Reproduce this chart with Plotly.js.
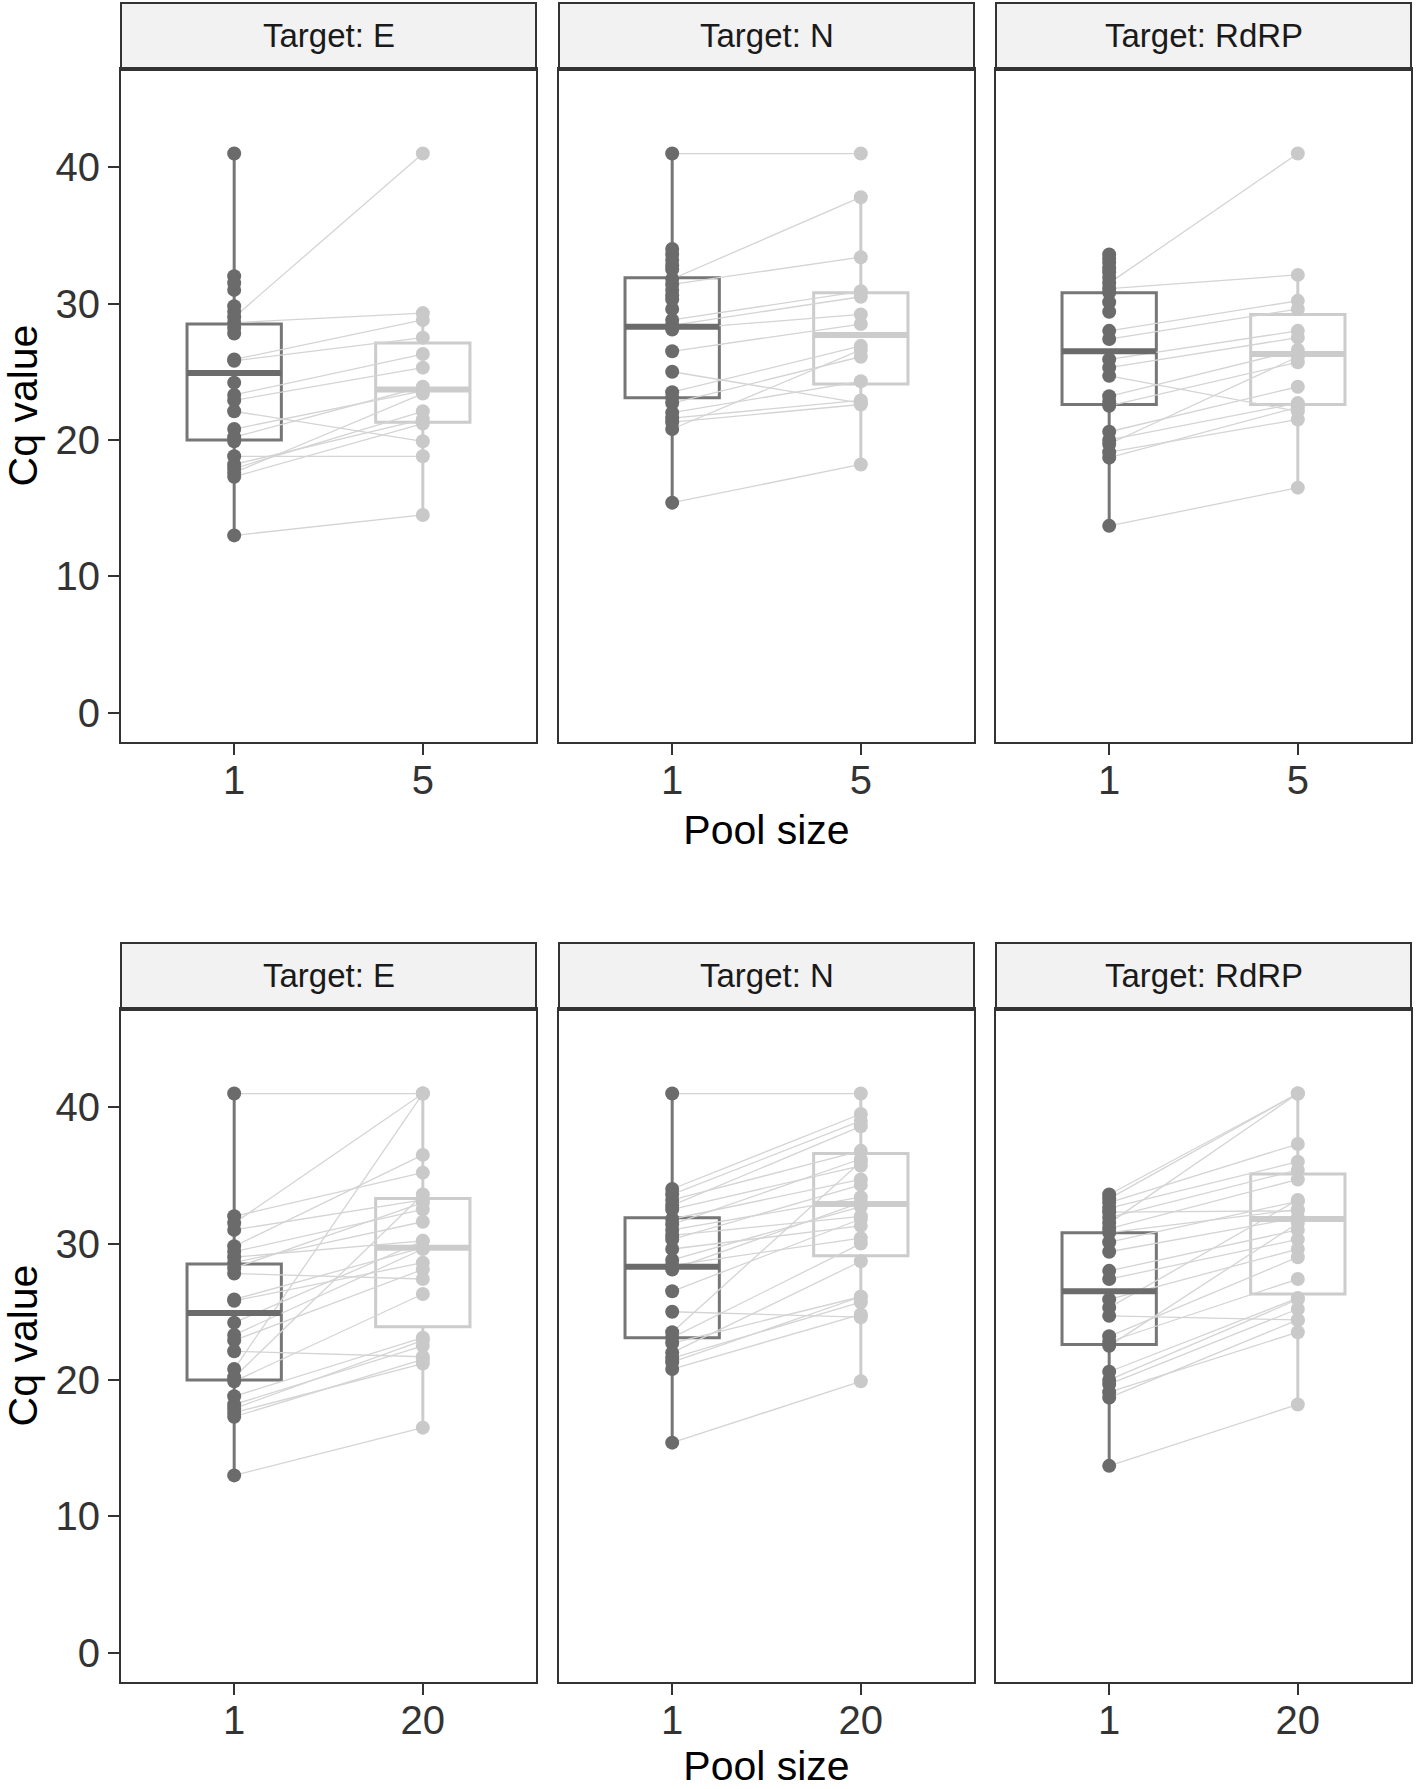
<!DOCTYPE html>
<html><head><meta charset="utf-8">
<script src="https://cdn.plot.ly/plotly-3.0.1.min.js"></script>
<style>html,body{margin:0;padding:0;background:#fff}#chart{width:1418px;height:1789px}</style>
</head><body><div id="chart"></div>
<script>
// ---------------- DATA ----------------
const targets = ['E', 'N', 'RdRP'];
const poolTicksTop = ['1', '5'];
const poolTicksBottom = ['1', '20'];

// Cq values per sample; pool-5 / pool-20 entries are paired with pool-1 by index (null = not tested)
const E_pool1  = [41.0, 32.0, 31.5, 31.0, 29.8, 29.4, 29.0, 28.6, 28.2, 27.8, 25.9, 25.8, 24.2, 23.3, 22.9, 22.1, 20.8, 20.2, 19.9, 18.8, 18.2, 17.9, 17.6, 17.3, 13.0];
const E_pool5  = [null, null, null, null, null, null, 41.0, 29.3, null, null, 28.8, 27.5, null, 26.3, 25.3, 19.9, 23.6, 23.9, null, 18.8, 21.5, 22.1, 23.4, 21.2, 14.5];
const E_pool20 = [41.0, 35.2, 41.0, 33.2, 36.5, 32.5, 30.2, 31.6, 33.0, 27.4, 29.7, 28.6, 30.2, 29.6, 28.1, 21.7, 41.0, 33.6, 26.3, 23.1, 22.5, 22.9, 21.2, 21.5, 16.5];

const N_pool1  = [41.0, 34.0, 33.6, 33.2, 32.8, 32.5, 31.8, 31.4, 31.0, 30.6, 30.3, 29.6, 28.8, 28.4, 28.1, 26.5, 25.0, 23.5, 23.1, 22.7, 22.0, 21.6, 21.3, 20.8, 15.4];
const N_pool5  = [41.0, null, null, null, null, null, 37.8, 33.4, null, null, null, null, 30.9, 30.5, 29.2, 28.5, 22.7, 26.9, null, 26.1, 24.3, 22.9, 22.6, 26.6, 18.2];
const N_pool20 = [41.0, 39.5, 39.0, 36.8, 38.6, 35.7, 34.7, 36.2, 33.4, 32.0, 34.3, 31.3, 32.7, 30.4, 33.0, 31.8, 24.6, 36.0, 30.0, 26.1, 28.7, 25.7, 26.1, 24.8, 19.9];

const R_pool1  = [33.6, 33.3, 33.0, 32.6, 32.3, 31.9, 31.5, 31.1, 30.8, 30.1, 29.4, 28.0, 27.4, 25.9, 25.3, 24.7, 23.2, 22.8, 22.5, 20.6, 20.0, 19.7, 19.1, 18.7, 13.7];
const R_pool5  = [null, null, null, null, null, null, 41.0, 32.1, null, null, null, 30.2, 29.6, 28.0, 27.5, 22.1, 26.6, null, 25.7, 23.9, 22.7, 26.1, 21.5, 22.4, 16.5];
const R_pool20 = [41.0, 41.0, 37.3, 36.0, 32.4, 35.4, 41.0, 34.7, 32.5, 33.1, 31.9, 31.0, 30.3, 29.6, 33.2, 24.4, 29.0, 27.4, 31.5, 26.0, 25.9, 25.2, 23.5, 24.4, 18.2];

// Box statistics, per target [E, N, RdRP]
const box1_q1  = [20.0, 23.1, 22.6];
const box1_med = [24.9, 28.3, 26.5];
const box1_q3  = [28.5, 31.9, 30.8];
const box1_lo  = [13.0, 15.4, 13.7];
const box1_hi  = [41.0, 41.0, 33.6];

const box5_q1  = [21.3, 24.1, 22.6];
const box5_med = [23.7, 27.7, 26.3];
const box5_q3  = [27.1, 30.8, 29.2];
const box5_lo  = [14.5, 18.2, 16.5];
const box5_hi  = [29.3, 37.8, 32.1];

const box20_q1  = [23.9, 29.1, 26.3];
const box20_med = [29.7, 32.9, 31.8];
const box20_q3  = [33.3, 36.6, 35.1];
const box20_lo  = [16.5, 19.9, 18.2];
const box20_hi  = [41.0, 41.0, 41.0];

const yTicks = [0, 10, 20, 30, 40];

// ---------------- LAYOUT GEOMETRY ----------------
const W = 1418, H = 1789;
const M = {l: 121, r: 7, t: 3, b: 107};
const colPx = [[121, 536], [559, 974], [996, 1411]];
const rowPx = [[69, 742], [1009, 1682]];
const stripPx = [[3, 68], [943, 1008]];
const iw = W - M.l - M.r, ih = H - M.t - M.b;
const dx = p => (p - M.l) / iw;   // paper fraction (plot area) from page px
const dy = p => 1 - (p - M.t) / ih;

const FONT = 'Liberation Sans, Arial, Helvetica, sans-serif';
const DARK = '#6b6b6b', DARK_BOX = '#767676';
const LIGHT = '#c9c9c9', LIGHT_BOX = '#cccccc';
const BOXW = 0.5;

const pool1 = [E_pool1, N_pool1, R_pool1];
const poolX = [[E_pool5, N_pool5, R_pool5], [E_pool20, N_pool20, R_pool20]];
const stats1 = {q1: box1_q1, med: box1_med, q3: box1_q3, lo: box1_lo, hi: box1_hi};
const statsX = [
  {q1: box5_q1, med: box5_med, q3: box5_q3, lo: box5_lo, hi: box5_hi},
  {q1: box20_q1, med: box20_med, q3: box20_q3, lo: box20_lo, hi: box20_hi}
];
const tickSets = [poolTicksTop, poolTicksBottom];

const traces = [];
const layout = {
  width: W, height: H, margin: M, showlegend: false,
  paper_bgcolor: '#ffffff', plot_bgcolor: '#ffffff',
  font: {family: FONT, color: '#000'},
  shapes: [], annotations: []
};

function boxTrace(xa, ya, pos, st, t, color) {
  return {
    type: 'box', xaxis: xa, yaxis: ya, x: [pos],
    q1: [st.q1[t]], median: [st.med[t]], q3: [st.q3[t]],
    lowerfence: [st.lo[t]], upperfence: [st.hi[t]],
    width: BOXW, whiskerwidth: 0, boxpoints: false,
    fillcolor: 'rgba(0,0,0,0)', line: {color: color, width: 3},
    hoverinfo: 'skip'
  };
}
function medTrace(xa, ya, pos, st, t, color) {
  return {
    type: 'scatter', mode: 'lines', xaxis: xa, yaxis: ya,
    x: [pos - BOXW / 2, pos + BOXW / 2], y: [st.med[t], st.med[t]],
    line: {color: color, width: 6}, hoverinfo: 'skip'
  };
}

for (let r = 0; r < 2; r++) {
  for (let c = 0; c < 3; c++) {
    const k = r * 3 + c + 1;
    const xa = 'x' + (k === 1 ? '' : k), ya = 'y' + (k === 1 ? '' : k);
    const p1 = pool1[c], p2 = poolX[r][c];

    // paired lines
    const lx = [], ly = [];
    p1.forEach((v, i) => { if (p2[i] !== null) { lx.push(1, 2, null); ly.push(v, p2[i], null); } });
    traces.push({type: 'scatter', mode: 'lines', xaxis: xa, yaxis: ya, x: lx, y: ly,
      connectgaps: false, line: {color: '#d4d4d4', width: 1.3}, hoverinfo: 'skip'});

    // boxes
    traces.push(boxTrace(xa, ya, 1, stats1, c, DARK_BOX));
    traces.push(boxTrace(xa, ya, 2, statsX[r], c, LIGHT_BOX));
    traces.push(medTrace(xa, ya, 1, stats1, c, DARK));
    traces.push(medTrace(xa, ya, 2, statsX[r], c, LIGHT_BOX));

    // points
    traces.push({type: 'scatter', mode: 'markers', xaxis: xa, yaxis: ya,
      x: p1.map(() => 1), y: p1, marker: {color: DARK, size: 14}, hoverinfo: 'skip'});
    const p2v = p2.filter(v => v !== null);
    traces.push({type: 'scatter', mode: 'markers', xaxis: xa, yaxis: ya,
      x: p2v.map(() => 2), y: p2v, marker: {color: LIGHT, size: 14}, hoverinfo: 'skip'});

    // axes
    const xname = 'xaxis' + (k === 1 ? '' : k), yname = 'yaxis' + (k === 1 ? '' : k);
    layout[xname] = {
      domain: [dx(colPx[c][0]), dx(colPx[c][1])], anchor: ya,
      range: [0.4, 2.6], tickvals: [1, 2], ticktext: tickSets[r],
      ticks: 'outside', ticklen: 11, tickwidth: 2, tickcolor: '#333',
      ticklabelstandoff: -9,
      tickfont: {size: 40, color: '#333', family: FONT},
      showline: true, mirror: true, linecolor: '#333', linewidth: 2,
      showgrid: false, zeroline: false, fixedrange: true,
      title: c === 1 ? {text: 'Pool size', font: {size: 41, color: '#000', family: FONT}, standoff: 14} : {text: ''}
    };
    layout[yname] = {
      domain: [dy(rowPx[r][1]), dy(rowPx[r][0])], anchor: xa,
      range: [-2.15, 47.2], tickvals: yTicks,
      ticks: c === 0 ? 'outside' : '', ticklen: 11, tickwidth: 2, tickcolor: '#333',
      showticklabels: c === 0,
      tickfont: {size: 40, color: '#333', family: FONT},
      showline: true, mirror: true, linecolor: '#333', linewidth: 2,
      showgrid: false, zeroline: false, fixedrange: true,
      title: c === 0 ? {text: 'Cq value', font: {size: 41, color: '#000', family: FONT}, standoff: 14} : {text: ''}
    };

    // strip (facet label)
    layout.shapes.push({type: 'rect', xref: 'paper', yref: 'paper',
      x0: dx(colPx[c][0]), x1: dx(colPx[c][1]), y0: dy(stripPx[r][1]), y1: dy(stripPx[r][0]),
      fillcolor: '#f2f2f2', line: {color: '#333', width: 2}, layer: 'above'});
    layout.shapes.push({type: 'line', xref: 'paper', yref: 'paper',
      x0: dx(colPx[c][0]), x1: dx(colPx[c][1]), y0: dy(stripPx[r][1] + 1), y1: dy(stripPx[r][1] + 1),
      line: {color: '#333', width: 4}, layer: 'above'});
    layout.annotations.push({xref: 'paper', yref: 'paper',
      x: dx((colPx[c][0] + colPx[c][1]) / 2), y: dy((stripPx[r][0] + stripPx[r][1]) / 2),
      xanchor: 'center', yanchor: 'middle', showarrow: false,
      text: 'Target: ' + targets[c], font: {size: 33, color: '#1a1a1a', family: FONT}});
  }
}

Plotly.newPlot('chart', traces, layout, {staticPlot: true, displayModeBar: false});
</script>
</body></html>
